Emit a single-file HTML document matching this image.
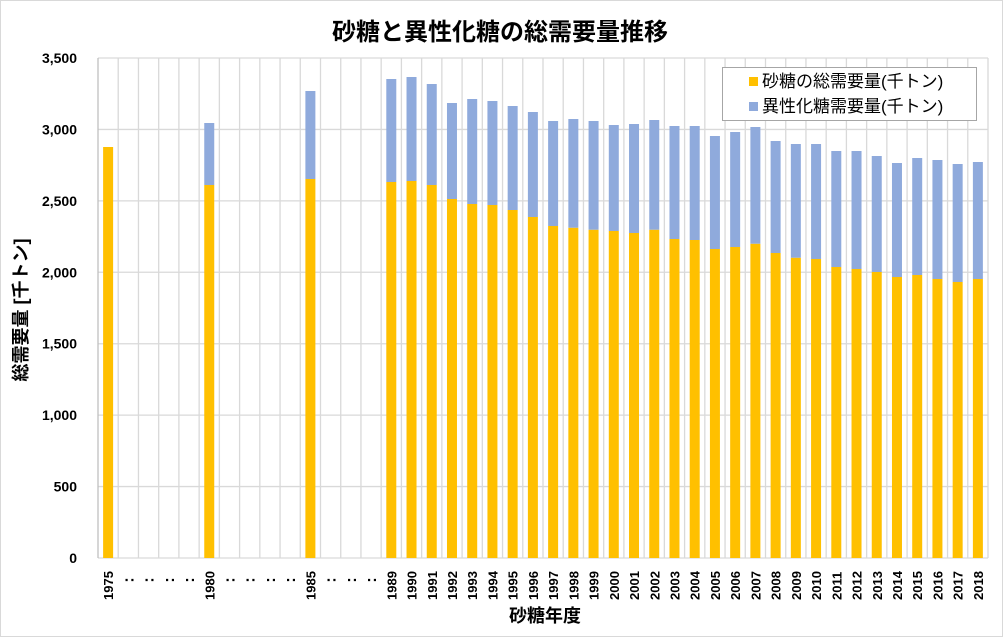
<!DOCTYPE html>
<html><head><meta charset="utf-8">
<style>
html,body{margin:0;padding:0;background:#fff;}
svg text{font-family:"Liberation Sans","Noto Sans CJK JP",sans-serif;}
</style></head>
<body>
<svg id="chart" width="1003" height="637" viewBox="0 0 1003 637" xmlns="http://www.w3.org/2000/svg">
<rect x="0.5" y="0.5" width="1002" height="636" fill="#fff" stroke="#d9d9d9"/>
<text x="500" y="40" text-anchor="middle" font-size="24" font-weight="bold" fill="#000">砂糖と異性化糖の総需要量推移</text>
<g id="grid"></g>
<g id="bars"></g>
<g id="yticks"></g>
<g id="xticks"></g>
<text transform="translate(27,310) rotate(-90)" text-anchor="middle" font-size="18" font-weight="bold" fill="#000">総需要量 [千トン]</text>
<text x="545" y="622" text-anchor="middle" font-size="18" font-weight="bold" fill="#000">砂糖年度</text>
<g>
<rect x="722.5" y="67.5" width="254" height="53" fill="#fff" stroke="#a6a6a6"/>
<rect x="749" y="77" width="9" height="9" fill="#FFC000"/>
<text x="762" y="87" font-size="17" fill="#000">砂糖の総需要量(千トン)</text>
<rect x="749" y="102" width="9" height="9" fill="#8FAADC"/>
<text x="762" y="112" font-size="17" fill="#000">異性化糖需要量(千トン)</text>
</g>
</svg>
<script>
const categories=["1975",":",":",":",":","1980",":",":",":",":","1985",":",":",":","1989","1990","1991","1992","1993","1994","1995","1996","1997","1998","1999","2000","2001","2002","2003","2004","2005","2006","2007","2008","2009","2010","2011","2012","2013","2014","2015","2016","2017","2018"];
const sugar=[2877,null,null,null,null,2611,null,null,null,null,2653,null,null,null,2632,2639,2611,2513,2478,2471,2436,2387,2324,2312,2298,2289,2275,2298,2233,2226,2163,2177,2200,2135,2102,2093,2037,2023,2002,1967,1981,1953,1932,1953];
const hfcs=[0,null,null,null,null,434,null,null,null,null,616,null,null,null,721,728,707,672,735,728,728,735,735,761,761,742,763,768,791,798,791,805,817,784,796,805,812,826,812,798,819,833,826,819];
const yTicks=[0,500,1000,1500,2000,2500,3000,3500];
const yTickLabels=["0","500","1,000","1,500","2,000","2,500","3,000","3,500"];

const NS="http://www.w3.org/2000/svg";
const L=98,R=988,T=58,B=558,YMAX=3500;
const n=categories.length, bw=(R-L)/n, barW=10;
function xC(i){return L+bw*(i+0.5);}
function yS(v){return B-(v/YMAX)*(B-T);}
function mk(tag,attrs,parent){const e=document.createElementNS(NS,tag);for(const k in attrs)e.setAttribute(k,attrs[k]);parent.appendChild(e);return e;}
const grid=document.getElementById('grid'),bars=document.getElementById('bars'),yt=document.getElementById('yticks'),xt=document.getElementById('xticks');
yTicks.forEach((v,i)=>{
  const l=mk('line',{x1:L,x2:R,y1:yS(v),y2:yS(v),stroke:'#d9d9d9','stroke-width':1.3},grid);
  
  
  const t=mk('text',{x:77,y:yS(v)+5,'text-anchor':'end','font-size':14,'font-weight':'bold',fill:'#000'},yt);
  t.textContent=yTickLabels[i];
  
  
});
for(let i=0;i<=n;i++){
  const x=L+bw*i;
  const l=mk('line',{x1:x,x2:x,y1:T,y2:B,stroke:i==0?'#bfbfbf':'#d9d9d9','stroke-width':1.3},grid);
  
  
}
categories.forEach((c,i)=>{
  const x=xC(i);
  if(sugar[i]!=null){
    const r1=mk('rect',{x:x-barW/2,y:yS(sugar[i]),width:barW,height:B-yS(sugar[i]),fill:'#FFC000'},bars);
    
    
    const tot=sugar[i]+(hfcs[i]||0);
    if(hfcs[i]){
      const r2=mk('rect',{x:x-barW/2,y:yS(tot),width:barW,height:yS(sugar[i])-yS(tot),fill:'#8FAADC'},bars);
      
      
    }
  }
  const isC=c===':';
  const t=mk('text',{transform:`translate(${x+5},${isC?580:600}) rotate(-90)`,'text-anchor':isC?'middle':'start','font-size':isC?16:13,'font-weight':'bold',fill:'#000'},xt);
  t.textContent=c;
  
  
});
</script>
</body></html>
